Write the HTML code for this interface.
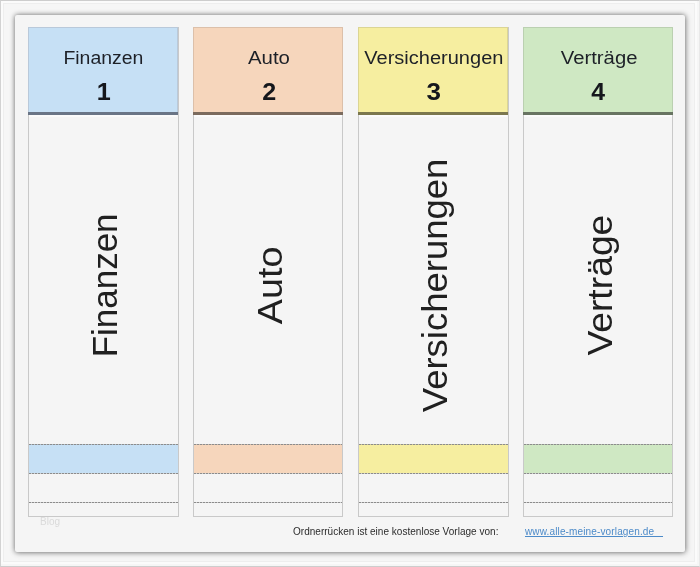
<!DOCTYPE html>
<html lang="de">
<head>
<meta charset="utf-8">
<title>Ordnerrücken Vorlage</title>
<style>
html,body{margin:0;padding:0;}
body{width:700px;height:567px;overflow:hidden;background:#f6f6f6;font-family:"Liberation Sans",sans-serif;position:relative;}
.frame{position:absolute;left:0;top:0;width:698px;height:565px;border:1px solid #cdcdcd;border-left-color:#d2d2d2;border-right-color:#e9e9e9;}
.frame2{position:absolute;left:1px;top:1px;width:692px;height:559px;border:2px solid #fbfbfb;outline:1px solid #eeeeee;outline-offset:-3px;}
.panel{position:absolute;left:15px;top:15px;width:670px;height:537px;background:#f5f5f5;border-radius:2px;box-shadow:0 0 5px rgba(0,0,0,.5),1px 1px 7px rgba(0,0,0,.18);}
.card{position:absolute;top:27px;width:148px;height:489px;border:1px solid #c9c9c9;border-top:none;background:#f5f5f5;}
.head{position:absolute;left:-1px;top:0;width:148px;height:84px;border:1px solid;border-bottom:none;}
.bar{position:absolute;left:-1px;top:85px;width:150px;height:3px;}
.bar::after{content:"";position:absolute;left:1px;right:1px;top:3px;height:2px;background:rgba(255,255,255,.55);}
.band{position:absolute;left:0;top:417px;width:100%;height:29px;}
.dl{position:absolute;left:0;width:100%;height:1px;background:repeating-linear-gradient(90deg,#8c8c8c 0,#8c8c8c 2px,rgba(140,140,140,.35) 2px,rgba(140,140,140,.35) 3px);}
.x{position:absolute;left:0;top:0;display:block;white-space:nowrap;line-height:1;}
.h{color:#1d2027;}
.n{color:#15171c;font-weight:bold;}
.v{color:#202020;}
.blog{position:absolute;left:40px;top:516px;font-size:10px;line-height:12px;color:#dadada;}
.foot{position:absolute;left:293px;top:525px;font-size:10px;line-height:14px;color:#2c2c2c;white-space:nowrap;letter-spacing:0.02px;}
.link{position:absolute;left:525px;top:525px;font-size:10px;line-height:14px;color:#4d8bc9;white-space:pre;text-decoration:underline;letter-spacing:0.14px;}
.c1 .head,.c1 .band{background:#c6e0f5;} .c1 .bar{background:#6a7586;} .c1 .head{border-color:#b9c9da;}
.c2 .head,.c2 .band{background:#f6d6bc;} .c2 .bar{background:#7b6b5e;} .c2 .head{border-color:#dcc0aa;}
.c3 .head,.c3 .band{background:#f6eea0;} .c3 .bar{background:#7b774e;} .c3 .head{border-color:#dbd594;}
.c4 .head,.c4 .band{background:#cfe8c3;} .c4 .bar{background:#687462;} .c4 .head{border-color:#bbd0b1;}
</style>
</head>
<body>
<div class="frame"></div>
<div class="frame2"></div>
<div class="panel"></div>
<div class="card c1" style="left:28px;width:149px"><div class="head"></div><div class="bar"></div><span class="x h" style="font-size:19.00px;transform:translate(74.38px,30.50px) translate(-50%,-50%) scale(1.0231,0.9850)">Finanzen</span><span class="x n" style="font-size:24.00px;transform:translate(74.72px,65.40px) translate(-50%,-50%) scale(1.0502,1.0058)">1</span><span class="x v" style="font-size:34.30px;transform:translate(76.08px,258.40px) translate(-50%,-50%) rotate(-90deg) scale(1.0195,1.0450)">Finanzen</span><div class="band"></div><div class="dl" style="top:417px"></div><div class="dl" style="top:446px"></div><div class="dl" style="top:475px"></div></div>
<div class="card c2" style="left:193px"><div class="head"></div><div class="bar"></div><span class="x h" style="font-size:19.00px;transform:translate(74.95px,30.50px) translate(-50%,-50%) scale(1.0729,0.9850)">Auto</span><span class="x n" style="font-size:24.00px;transform:translate(75.17px,64.98px) translate(-50%,-50%) scale(1.0469,1.0035)">2</span><span class="x v" style="font-size:34.30px;transform:translate(75.78px,258.38px) translate(-50%,-50%) rotate(-90deg) scale(1.0998,1.0450)">Auto</span><div class="band"></div><div class="dl" style="top:417px"></div><div class="dl" style="top:446px"></div><div class="dl" style="top:475px"></div></div>
<div class="card c3" style="left:358px;width:149px"><div class="head"></div><div class="bar"></div><span class="x h" style="font-size:19.00px;transform:translate(74.86px,30.50px) translate(-50%,-50%) scale(1.0535,0.9850)">Versicherungen</span><span class="x n" style="font-size:24.00px;transform:translate(74.69px,65.15px) translate(-50%,-50%) scale(1.0843,1.0000)">3</span><span class="x v" style="font-size:34.30px;transform:translate(75.38px,258.38px) translate(-50%,-50%) rotate(-90deg) scale(1.0637,1.0450)">Versicherungen</span><div class="band"></div><div class="dl" style="top:417px"></div><div class="dl" style="top:446px"></div><div class="dl" style="top:475px"></div></div>
<div class="card c4" style="left:523px"><div class="head"></div><div class="bar"></div><span class="x h" style="font-size:19.00px;transform:translate(75.12px,30.50px) translate(-50%,-50%) scale(1.0663,0.9850)">Verträge</span><span class="x n" style="font-size:24.00px;transform:translate(74.08px,65.17px) translate(-50%,-50%) scale(1.0344,1.0303)">4</span><span class="x v" style="font-size:34.30px;transform:translate(75.58px,258.13px) translate(-50%,-50%) rotate(-90deg) scale(1.0874,1.0450)">Verträge</span><div class="band"></div><div class="dl" style="top:417px"></div><div class="dl" style="top:446px"></div><div class="dl" style="top:475px"></div></div>
<div class="blog">Blog</div>
<div class="foot">Ordnerrücken ist eine kostenlose Vorlage von:</div>
<div class="link">www.alle-meine-vorlagen.de   </div>
</body>
</html>
